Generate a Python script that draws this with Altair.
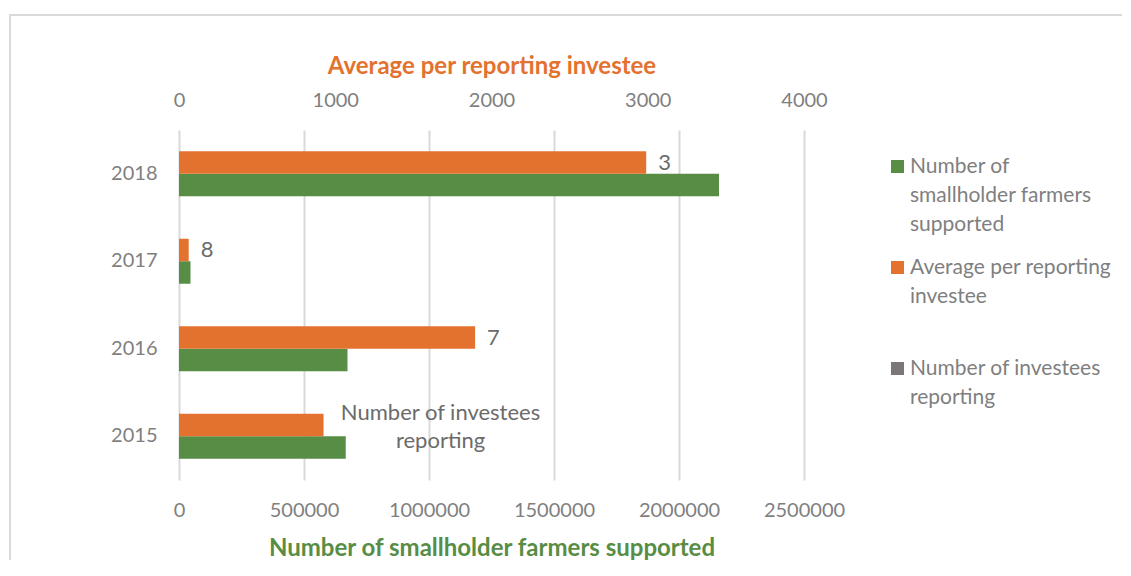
import altair as alt
import pandas as pd

years = ["2018", "2017", "2016", "2015"]
farmers = [2160000, 46000, 674000, 667000]
average = [2990, 62, 1895, 925]
label_text = ["3", "8", "7", "Number of investees\nreporting"]
series = ["Number of smallholder farmers supported",
          "Average per reporting investee",
          "Number of investees reporting"]
colors = ["#578D45", "#E4722F", "#7B7777"]

df = pd.DataFrame({"year": years, "farmers": farmers, "average": average,
                   "label": label_text})

FONT = "Lato"
GREY = "#7F7F7F"

y_enc = alt.Y("year:N", sort=years,
              scale=alt.Scale(paddingInner=0.486, paddingOuter=0.243),
              axis=alt.Axis(title=None, labelFontSize=20, labelColor=GREY,
                            labelFont=FONT, labelPadding=22, ticks=False,
                            domain=False))
yoff = alt.YOffset("series:N", scale=alt.Scale(domain=[series[1], series[0]]))
color = alt.Color("series:N", scale=alt.Scale(domain=series, range=colors),
                  legend=alt.Legend(
                      title=None, orient="none", legendX=708, legendY=26,
                      symbolType="square", symbolSize=169, symbolStrokeWidth=0,
                      labelFontSize=21, labelColor=GREY, labelFont=FONT,
                      labelLimit=0, labelOffset=2, rowPadding=21,
                      labelExpr=("datum.label == 'Number of smallholder farmers supported' ? "
                                 "['Number of','smallholder farmers','supported'] : "
                                 "datum.label == 'Average per reporting investee' ? "
                                 "['Average per reporting','investee',' '] : "
                                 "['Number of investees','reporting']")))

base = alt.Chart(df)

green = base.mark_bar().transform_calculate(series=f"'{series[0]}'").encode(
    x=alt.X("farmers:Q",
            scale=alt.Scale(domain=[0, 2500000], nice=False),
            axis=alt.Axis(orient="bottom", values=[0, 500000, 1000000, 1500000, 2000000, 2500000],
                          format="d", grid=True, gridColor="#D9D9D9", gridWidth=2,
                          domain=False, ticks=False, labelFontSize=20, labelColor=GREY,
                          labelFont=FONT, labelPadding=20, labelFlush=False,
                          title="Number of smallholder farmers supported",
                          titleColor="#578D45", titleFontSize=24, titleFont=FONT,
                          titleFontWeight="bold", titlePadding=16)),
    y=y_enc, yOffset=yoff, color=color)

orange_base = base.transform_calculate(series=f"'{series[1]}'")
orange = orange_base.mark_bar().encode(
    x=alt.X("average:Q",
            scale=alt.Scale(domain=[0, 4000], nice=False),
            axis=alt.Axis(orient="top", values=[0, 1000, 2000, 3000, 4000],
                          format="d", grid=False,
                          domain=False, ticks=False, labelFontSize=20, labelColor=GREY,
                          labelFont=FONT, labelPadding=20, labelFlush=False,
                          title="Average per reporting investee",
                          titleColor="#E4722F", titleFontSize=24, titleFont=FONT,
                          titleFontWeight="bold", titlePadding=12)),
    y=y_enc, yOffset=yoff, color=color)

labels_small = orange_base.transform_filter("datum.year != '2015'").mark_text(
    align="left", baseline="middle", dx=12, fontSize=22, font=FONT, color="#6B6B6B"
).encode(x="average:Q", y=alt.Y("year:N", sort=years), yOffset=yoff, text="label:N")

label_2015 = orange_base.transform_filter("datum.year == '2015'").mark_text(
    align="center", baseline="middle", dx=117, dy=-12, fontSize=22, font=FONT,
    color="#6B6B6B", lineBreak="\n", lineHeight=28
).encode(x="average:Q", y=alt.Y("year:N", sort=years), yOffset=yoff, text="label:N")

frame = alt.Chart(pd.DataFrame({"f": [0]})).mark_rect(
    fill=None, stroke="#D9D9D9", strokeWidth=2
).encode(x=alt.value(-169), x2=alt.value(1000), y=alt.value(-115), y2=alt.value(600))

chart = alt.layer(green, orange + labels_small + label_2015, frame).resolve_scale(
    x="independent"
).properties(
    width=625, height=350,
    padding={"left": 171, "top": 122, "right": 318, "bottom": 80},
    autosize=alt.AutoSizeParams(type="none"),
).configure(view=alt.ViewConfig(stroke=None),
            style={"guide-label": {"lineHeight": 29}})

chart.save("out.html", embed_options={"renderer": "svg", "actions": False})
